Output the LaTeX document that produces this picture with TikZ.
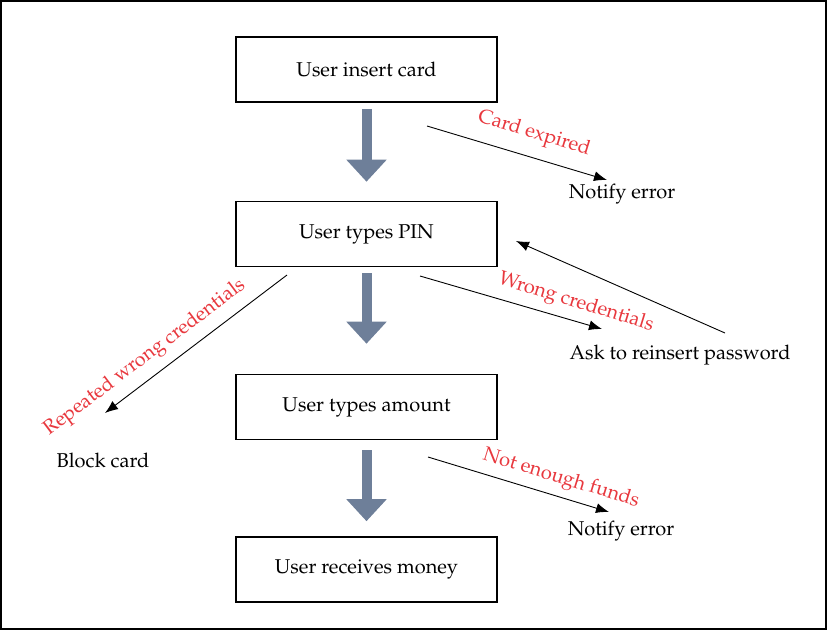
\documentclass[tikz,border=0pt]{standalone}
\usepackage[T1]{fontenc}
\usepackage{mathpazo}
\usetikzlibrary{arrows.meta}
\definecolor{lblred}{RGB}{232,56,62}
\definecolor{slate}{RGB}{110,127,153}
\begin{document}
\begin{tikzpicture}[x=1pt,y=-1pt,
  stepbox/.style={draw=black,line width=1.6pt,minimum width=261pt,minimum height=65pt,inner sep=0pt,font=\fontsize{20}{24}\selectfont},
  plain/.style={inner sep=0pt,font=\fontsize{20}{24}\selectfont},
  lbl/.style={inner sep=0pt,text=lblred,font=\fontsize{20}{24}\selectfont},
  bigarrow/.style={draw=slate,line width=10pt,-{Triangle[width=39pt,length=22pt,fill=slate]}},
  thinarrow/.style={draw=black,line width=0.9pt,-{Latex[length=13pt,width=10pt]}}]
\useasboundingbox (0,0) rectangle (827,630);
\draw[line width=2pt] (1,1) rectangle (826,629);
% boxes
\node[stepbox] (b1) at (366.5,69.5) {User insert card};
\node[stepbox] (b2) at (366.5,234) {User types PIN};
\node[stepbox] (b3) at (366.5,407) {User types amount};
\node[stepbox] (b4) at (366.5,569.5) {User receives money};
% block arrows
\draw[bigarrow] ([yshift=-6pt]b1.south) -- ([yshift=19pt]b2.north);
\draw[bigarrow] ([yshift=-6pt]b2.south) -- ([yshift=30pt]b3.north);
\draw[bigarrow] ([yshift=-10pt]b3.south) -- ([yshift=15pt]b4.north);
% side texts
\node[plain] (n1) at (622,194) {Notify error};
\node[plain] (n2) at (680,355) {Ask to reinsert password};
\node[plain] (n3) at (103,460) {Block card};
\node[plain] (n4) at (621,531) {Notify error};
% free ends
\coordinate (c1s) at (427,126); \coordinate (c1e) at (607,180);
\coordinate (c2s) at (420,276); \coordinate (c2e) at (602,329);
\coordinate (c3s) at (725,333); \coordinate (c3e) at (516,241);
\coordinate (c4s) at (287,275); \coordinate (c4e) at (105,413);
\coordinate (c5s) at (428,457); \coordinate (c5e) at (609,512);
\draw[thinarrow] (c1s) -- (c1e);
\draw[thinarrow] (c2s) -- (c2e);
\draw[thinarrow] (c3s) -- (c3e);
\draw[thinarrow] (c4s) -- (c4e);
\draw[thinarrow] (c5s) -- (c5e);
% labels
\node[lbl,rotate=-17] (l1) at (534,134) {Card expired};
\node[lbl,rotate=-17] (l2) at (576,303) {Wrong credentials};
\node[lbl,rotate=37] (l3) at (145,358) {Repeated wrong credentials};
\node[lbl,rotate=-17] (l4) at (561,479) {Not enough funds};
\end{tikzpicture}
\end{document}
